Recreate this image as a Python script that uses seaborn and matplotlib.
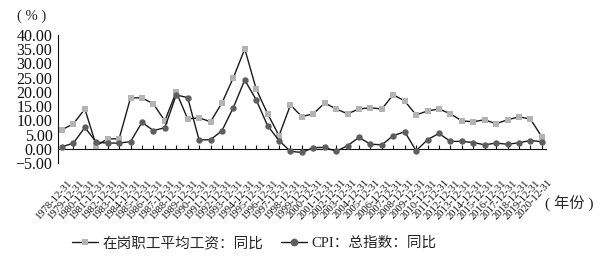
import matplotlib
matplotlib.use("Agg")
import matplotlib.pyplot as plt
import matplotlib.transforms as mtransforms
import seaborn as sns
import pandas as pd
import numpy as np
from matplotlib.lines import Line2D

years = list(range(1978, 2021))
tick_labels = [f"{y}-12-31" for y in years]

wage_yoy = [6.7, 8.8, 14.0, 1.1, 3.5, 3.5, 17.9, 17.9, 15.8, 9.8, 20.0, 10.5,
            10.9, 9.5, 16.1, 25.0, 35.1, 21.0, 12.3, 4.6, 15.4, 11.3, 12.3, 16.1,
            14.0, 12.3, 14.0, 14.4, 14.0, 19.0, 16.8, 11.9, 13.3, 14.0, 12.3, 9.8,
            9.5, 10.2, 8.8, 10.2, 11.2, 10.5, 4.2]
cpi_yoy = [0.7, 2.0, 7.5, 2.3, 2.0, 2.0, 2.5, 9.3, 6.4, 7.4, 18.9, 18.0,
           3.1, 3.2, 6.3, 14.5, 24.2, 17.2, 8.1, 2.9, -0.9, -1.3, 0.4, 0.5,
           -0.9, 1.1, 4.0, 1.6, 1.4, 4.6, 6.0, -0.7, 3.2, 5.4, 2.6, 2.6,
           2.2, 1.4, 2.0, 1.6, 2.1, 2.9, 2.5]

wage_name = "在岗职工平均工资：同比"
cpi_name = "CPI：总指数：同比"

df = pd.DataFrame({"idx": np.arange(len(years)), "wage": wage_yoy, "cpi": cpi_yoy})

sns.set_style("white")
serif = ["Liberation Serif", "Noto Sans CJK SC"]
plt.rcParams["font.family"] = serif

fig = plt.figure(figsize=(6, 2.56), dpi=100)
ax = fig.add_axes([58/600, 1-163/256, (546-58)/600, (163-35)/256])

sns.lineplot(data=df, x="idx", y="wage", ax=ax, color="#1a1a1a", linewidth=1.0,
             marker="s", markersize=4.2, markerfacecolor="#b3b3b3",
             markeredgecolor="#b3b3b3", markeredgewidth=0)
sns.lineplot(data=df, x="idx", y="cpi", ax=ax, color="#1a1a1a", linewidth=1.0,
             marker="o", markersize=4.6, markerfacecolor="#5e5e5e",
             markeredgecolor="#5e5e5e", markeredgewidth=0)

ax.set_xlim(-0.35, len(years) - 1 + 0.37)
ax.set_ylim(-5, 40)
ax.set_yticks(np.arange(-5, 41, 5))
ax.set_yticklabels([f"{v:.2f}".replace("-", "\u2212") for v in np.arange(-5, 41, 5)],
                   fontsize=11.5)
ax.tick_params(axis="y", direction="in", length=3, width=0.8, pad=4, colors="#111111")
ax.tick_params(axis="x", length=0, pad=3, colors="#111111")
ax.set_xticks(df["idx"])
ax.set_xticklabels(tick_labels, rotation=48, ha="right", va="top",
                   rotation_mode="anchor", fontsize=7.6)
shift = mtransforms.ScaledTranslation(5/100, -11/100, fig.dpi_scale_trans)
for lab in ax.get_xticklabels():
    lab.set_transform(lab.get_transform() + shift)
ax.set_xlabel("")
ax.set_ylabel("")
for s in ["top", "right", "bottom"]:
    ax.spines[s].set_visible(False)
ax.spines["left"].set_color("#111111")
ax.spines["left"].set_linewidth(0.8)

sec = ax.secondary_xaxis(5/45)
sec.set_xticks(df["idx"])
sec.set_xticklabels([])
sec.tick_params(axis="x", direction="in", length=3, width=0.8, colors="#111111")
sec.spines["bottom"].set_color("#111111")
sec.spines["bottom"].set_linewidth(0.8)

fig.text(32/600, 1-16/256, "( % )", ha="center", va="center", fontsize=10.5, family=serif)
fig.text(569/600, 1-204/256, "( 年份 )", ha="center", va="center", fontsize=11, family=serif)

handles = [
    Line2D([], [], color="#1a1a1a", linewidth=1.0, marker="s", markersize=5,
           markerfacecolor="#b3b3b3", markeredgewidth=0),
    Line2D([], [], color="#1a1a1a", linewidth=1.0, marker="o", markersize=5.5,
           markerfacecolor="#5e5e5e", markeredgewidth=0),
]
fig.legend(handles, [wage_name, cpi_name], loc="center", ncol=2,
           bbox_to_anchor=(254/600, 1-243/256), frameon=False,
           prop={"family": serif, "size": 10.5}, handlelength=1.8,
           handletextpad=0.3, columnspacing=1.2)

fig.savefig("out.png", dpi=100)
